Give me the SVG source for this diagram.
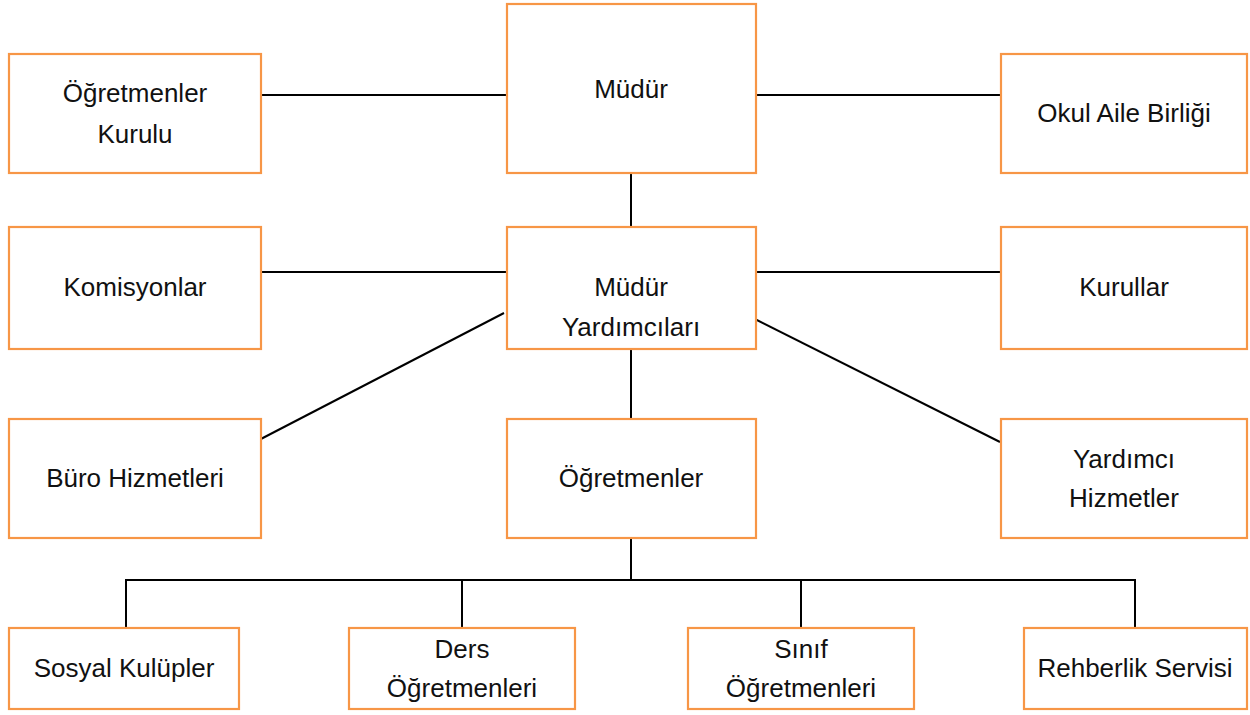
<svg xmlns="http://www.w3.org/2000/svg" width="1250" height="715" viewBox="0 0 1250 715">
<style>
.box{fill:#ffffff;stroke:#F79646;stroke-width:2.2}
.t{font-family:"Liberation Sans",Arial,sans-serif;font-size:26px;fill:#111111;text-anchor:middle}
.c{stroke:#000000;stroke-width:2;fill:none}
</style>
<rect width="1250" height="715" fill="#ffffff"/>
<g id="connectors">
<line class="c" x1="261" y1="95" x2="507" y2="95"/>
<line class="c" x1="756" y1="95" x2="1001" y2="95"/>
<line class="c" x1="631" y1="173" x2="631" y2="227"/>
<line class="c" x1="261" y1="272" x2="507" y2="272"/>
<line class="c" x1="756" y1="272" x2="1001" y2="272"/>
<line class="c" x1="504" y1="313" x2="257" y2="441"/>
<line class="c" x1="749" y1="316" x2="1000" y2="442"/>
<line class="c" x1="631" y1="349" x2="631" y2="419"/>
<line class="c" x1="631" y1="538" x2="631" y2="580"/>
<polyline class="c" points="126,628 126,580 1135,580 1135,628"/>
<line class="c" x1="462" y1="580" x2="462" y2="628"/>
<line class="c" x1="801" y1="580" x2="801" y2="628"/>
</g>
<g id="ogretmenler-kurulu">
<rect class="box" x="9" y="54" width="252" height="119"/>
<text class="t" x="135" y="102">Öğretmenler</text>
<text class="t" x="135" y="143">Kurulu</text>
</g>
<g id="mudur">
<rect class="box" x="507" y="4" width="249" height="169"/>
<text class="t" x="631" y="98">Müdür</text>
</g>
<g id="okul-aile-birligi">
<rect class="box" x="1001" y="54" width="246" height="119"/>
<text class="t" x="1124" y="122">Okul Aile Birliği</text>
</g>
<g id="komisyonlar">
<rect class="box" x="9" y="227" width="252" height="122"/>
<text class="t" x="135" y="296">Komisyonlar</text>
</g>
<g id="mudur-yardimcilari">
<rect class="box" x="507" y="227" width="249" height="122"/>
<text class="t" x="631" y="296">Müdür</text>
<text class="t" x="631" y="336">Yardımcıları</text>
</g>
<g id="kurullar">
<rect class="box" x="1001" y="227" width="246" height="122"/>
<text class="t" x="1124" y="296">Kurullar</text>
</g>
<g id="buro-hizmetleri">
<rect class="box" x="9" y="419" width="252" height="119"/>
<text class="t" x="135" y="487">Büro Hizmetleri</text>
</g>
<g id="ogretmenler">
<rect class="box" x="507" y="419" width="249" height="119"/>
<text class="t" x="631" y="487">Öğretmenler</text>
</g>
<g id="yardimci-hizmetler">
<rect class="box" x="1001" y="419" width="246" height="119"/>
<text class="t" x="1124" y="468">Yardımcı</text>
<text class="t" x="1124" y="507">Hizmetler</text>
</g>
<g id="sosyal-kulupler">
<rect class="box" x="9" y="628" width="230" height="81"/>
<text class="t" x="124" y="677">Sosyal Kulüpler</text>
</g>
<g id="ders-ogretmenleri">
<rect class="box" x="349" y="628" width="226" height="81"/>
<text class="t" x="462" y="658">Ders</text>
<text class="t" x="462" y="697">Öğretmenleri</text>
</g>
<g id="sinif-ogretmenleri">
<rect class="box" x="688" y="628" width="226" height="81"/>
<text class="t" x="801" y="658">Sınıf</text>
<text class="t" x="801" y="697">Öğretmenleri</text>
</g>
<g id="rehberlik-servisi">
<rect class="box" x="1024" y="628" width="223" height="81"/>
<text class="t" x="1135" y="677">Rehberlik Servisi</text>
</g>
</svg>
